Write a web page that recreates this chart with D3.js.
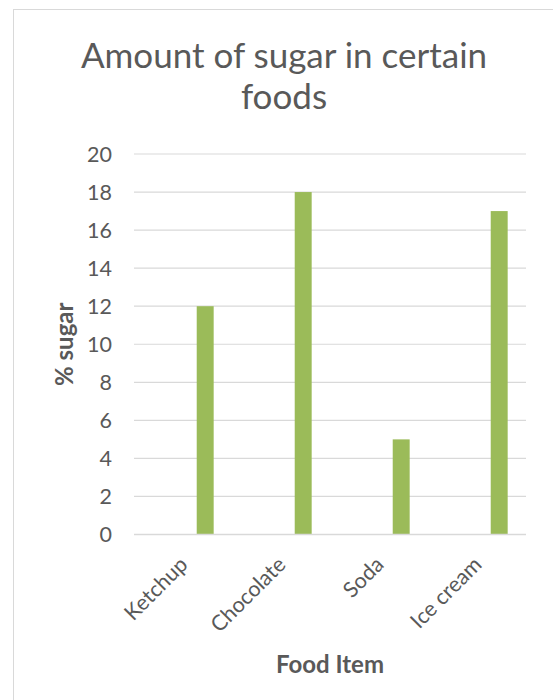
<!DOCTYPE html>
<html>
<head>
<meta charset="utf-8">
<script src="https://cdn.jsdelivr.net/npm/d3@7"></script>
<style>
  body { margin: 0; background: #fff; }
  text { font-family: Lato, "Open Sans", sans-serif; fill: #595959; }
</style>
</head>
<body>
<svg id="chart" width="553" height="700"></svg>
<script>
const foods = ["Ketchup", "Chocolate", "Soda", "Ice cream"];
const sugar = [12, 18, 5, 17];
const yTicks = [0, 2, 4, 6, 8, 10, 12, 14, 16, 18, 20];

const svg = d3.select("#chart");

const plot = { left: 134, right: 526, top: 154, bottom: 534.5 };

// chart frame (runs past the right and bottom edges)
svg.append("rect")
  .attr("x", 13.5)
  .attr("y", 9.5)
  .attr("width", 600)
  .attr("height", 720)
  .attr("fill", "none")
  .attr("stroke", "#d9d9d9");

const x = d3.scaleBand()
  .domain(foods)
  .range([plot.left, plot.right]);

const y = d3.scaleLinear()
  .domain([0, 20])
  .range([plot.bottom, plot.top]);

// gridlines
svg.append("g")
  .selectAll("line")
  .data(yTicks.slice(1))
  .enter()
  .append("line")
  .attr("x1", plot.left)
  .attr("x2", plot.right)
  .attr("y1", d => y(d))
  .attr("y2", d => y(d))
  .attr("stroke", "#d9d9d9")
  .attr("stroke-width", 1.2);

// y tick labels
svg.append("g")
  .selectAll("text")
  .data(yTicks)
  .enter()
  .append("text")
  .attr("x", 112)
  .attr("y", d => y(d))
  .attr("dy", "0.36em")
  .attr("text-anchor", "end")
  .attr("font-size", "21.5px")
  .text(d => d);

// bars sit in the right part of each category slot
const bw = x.bandwidth();
svg.append("g")
  .selectAll("rect")
  .data(foods)
  .enter()
  .append("rect")
  .attr("x", d => x(d) + bw * 0.64)
  .attr("width", bw * 0.173)
  .attr("y", (d, i) => y(sugar[i]))
  .attr("height", (d, i) => y(0) - y(sugar[i]))
  .attr("fill", "#9bbb59");

// x axis line
svg.append("line")
  .attr("x1", plot.left)
  .attr("x2", plot.right)
  .attr("y1", y(0))
  .attr("y2", y(0))
  .attr("stroke", "#d9d9d9")
  .attr("stroke-width", 1.5);

// category labels
svg.append("g")
  .selectAll("text")
  .data(foods)
  .enter()
  .append("text")
  .attr("text-anchor", "end")
  .attr("font-size", "21.5px")
  .attr("transform", d => `translate(${x(d) + bw / 2 + 6},${566}) rotate(-45)`)
  .text(d => d);

// title
const title = svg.append("text")
  .attr("x", 284)
  .attr("text-anchor", "middle")
  .attr("font-size", "35px");
title.append("tspan").attr("x", 284).attr("y", 68).text("Amount of sugar in certain");
title.append("tspan").attr("x", 284).attr("y", 109).text("foods");

// axis titles
svg.append("text")
  .attr("x", 330)
  .attr("y", 673)
  .attr("text-anchor", "middle")
  .attr("font-size", "24px")
  .attr("font-weight", "bold")
  .text("Food Item");

svg.append("text")
  .attr("transform", `translate(73,${(plot.top + plot.bottom) / 2}) rotate(-90)`)
  .attr("text-anchor", "middle")
  .attr("font-size", "24px")
  .attr("font-weight", "bold")
  .text("% sugar");
</script>
</body>
</html>
